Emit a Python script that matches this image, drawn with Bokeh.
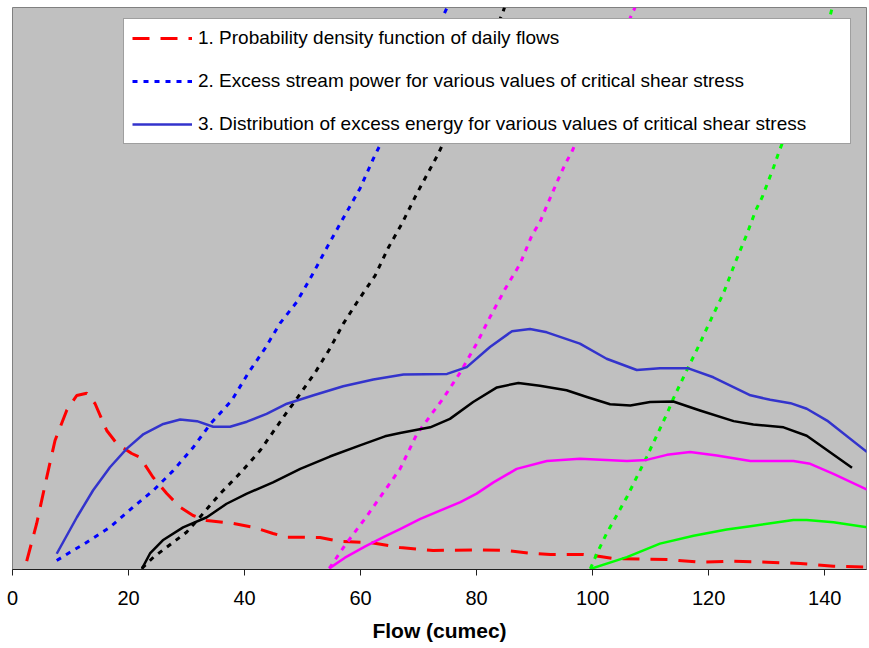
from bokeh.plotting import figure
from bokeh.models import Legend, LegendItem, Range1d, FixedTicker
from bokeh.embed import file_html
from bokeh.resources import INLINE

# 1. Probability density function of daily flows
pdf_flow = [2.45, 4.17, 5.9, 7.33, 9.34, 11.07, 12.79, 14.22, 16.24, 17.97, 20.55, 21.98,
            24.22, 26.59, 28.88, 31.12, 33.48, 38.02, 41.47, 44.91, 47.28, 49.57, 53.0, 56.5,
            61.6, 66.8, 72.5, 80.0, 85.2, 89.7, 92.7, 98.4, 101.3, 103.5, 112.9, 118.5, 124.2,
            130.1, 135.8, 141.5, 147.3]
pdf_val = [1.48, 8.19, 16.4, 22.95, 28.3, 30.96, 31.37, 29.54, 24.73, 22.42, 20.64, 19.98,
           16.42, 13.52, 11.09, 9.61, 8.72, 8.19, 7.53, 6.41, 5.75, 5.75, 5.69, 4.98,
           4.8, 3.9, 3.38, 3.5, 3.38, 2.85, 2.67, 2.67, 2.31, 1.96, 1.78, 1.3, 1.48,
           1.3, 1.07, 0.59, 0.41]

# 2. Excess stream power for various critical shear stresses
sp1_flow = [7.62, 9.91, 12.2, 16.8, 20.8, 24.3, 27.7, 31.2, 34.1, 37.8, 40.6, 43.5, 46.1,
            49.0, 51.6, 54.2, 57.0, 59.9, 62.2, 74.2, 74.9]
sp1_val = [1.6, 3.08, 4.45, 7.53, 11.1, 14.1, 17.6, 21.8, 25.9, 30.1, 34.9, 39.3, 43.8,
           47.6, 52.3, 57.3, 62.5, 67.8, 73.1, 98.4, 100.0]
sp2_flow = [22.3, 24.3, 26.6, 30.0, 32.3, 35.8, 39.2, 42.7, 47.3, 49.0, 52.2, 54.7, 57.0,
            59.6, 62.5, 64.8, 67.1, 69.7, 72.0, 73.4, 84.4, 84.8]
sp2_val = [0.2, 2.19, 3.97, 6.64, 9.31, 13.5, 17.1, 21.2, 28.0, 30.4, 35.1, 39.3, 43.7,
           47.9, 52.3, 57.3, 61.5, 66.9, 71.3, 74.0, 98.8, 100.0]
sp3_flow = [54.6, 57.3, 60.8, 64.2, 66.8, 69.7, 74.2, 77.2, 80.0, 82.3, 84.9, 87.5, 89.5,
            90.9, 93.0, 94.1, 95.3, 96.4, 106.8, 107.3]
sp3_val = [0.2, 4.3, 9.1, 14.1, 17.9, 24.1, 30.4, 35.1, 40.2, 44.9, 49.9, 54.4, 59.4,
           61.8, 66.9, 69.5, 72.2, 74.3, 98.9, 100.0]
sp4_flow = [99.6, 100.7, 102.4, 105.9, 109.3, 112.8, 113.9, 116.2, 118.2, 120.3, 122.6,
            124.6, 126.6, 128.1, 129.2, 131.2, 132.0, 140.8, 141.3]
sp4_val = [0.1, 2.8, 6.4, 12.9, 20.0, 27.7, 30.4, 35.4, 39.6, 44.3, 49.3,
           54.7, 59.7, 63.9, 66.2, 71.6, 74.0, 98.0, 100.0]

# 3. Distribution of excess energy for various critical shear stresses
en1_flow = [7.62, 11.1, 13.9, 16.8, 19.7, 22.6, 26.0, 28.9, 31.8, 34.6, 37.5, 40.4, 43.8,
            47.3, 51.9, 57.0, 62.2, 67.4, 74.9, 78.3, 82.3, 86.1, 89.2, 92.1, 97.8, 102.4,
            107.6, 111.6, 116.5, 120.8, 127.2, 130.6, 134.1, 136.9, 140.4, 147.3]
en1_val = [2.8, 9.3, 14.1, 18.2, 21.5, 24.1, 25.9, 26.7, 26.4, 25.4, 25.4, 26.3, 27.7,
           29.5, 31.0, 32.6, 33.8, 34.7, 34.8, 36.0, 39.6, 42.4, 42.8, 42.2, 40.2, 37.5,
           35.5, 35.8, 35.8, 34.2, 31.0, 30.2, 29.6, 28.6, 26.5, 20.9]
en2_flow = [22.3, 23.7, 25.9, 29.4, 33.5, 36.9, 40.4, 44.9, 49.6, 54.7, 59.9, 64.2, 66.8,
            72.0, 75.4, 79.4, 83.5, 87.2, 90.9, 95.5, 99.0, 103.0, 106.5, 109.9, 113.9,
            118.5, 124.3, 127.7, 132.9, 136.9, 144.7]
en2_val = [0.1, 2.85, 5.2, 7.5, 9.3, 11.7, 13.5, 15.5, 17.9, 20.1, 22.1, 23.7, 24.3,
           25.3, 26.8, 29.8, 32.4, 33.2, 32.7, 31.9, 30.7, 29.4, 29.2, 29.8, 29.9,
           28.3, 26.4, 25.8, 25.3, 23.8, 18.1]
en3_flow = [54.6, 57.3, 60.8, 64.2, 66.8, 70.3, 77.2, 80.0, 82.9, 86.9, 92.1, 97.8, 105.9,
            109.3, 112.8, 116.8, 121.4, 127.2, 134.6, 137.5, 141.5, 147.3]
en3_val = [0.2, 2.1, 4.1, 5.9, 7.2, 9.0, 12.0, 13.5, 15.5, 17.9, 19.3, 19.7, 19.3,
           19.5, 20.4, 20.9, 20.3, 19.3, 19.3, 18.8, 17.0, 14.2]
en4_flow = [99.6, 105.9, 111.6, 117.4, 123.1, 127.2, 134.6, 136.9, 141.5, 147.3]
en4_val = [0.1, 2.2, 4.6, 6.0, 7.1, 7.7, 8.8, 8.8, 8.4, 7.5]

x_ticks = [0, 20, 40, 60, 80, 100, 120, 140]
legend_labels = [
    "1. Probability density function of daily flows",
    "2. Excess stream power for various values of critical shear stress",
    "3. Distribution of excess energy for various values of critical shear stress",
]

FONT = "Liberation Sans"

p = figure(width=869, height=648, output_backend="svg", toolbar_location=None,
           x_range=Range1d(0, 147.2), y_range=Range1d(0, 100),
           y_axis_location=None,
           min_border_left=12, min_border_right=3, min_border_top=7, min_border_bottom=79)
p.background_fill_color = "#C0C0C0"
p.border_fill_color = "white"
p.outline_line_color = "#808080"
p.outline_line_width = 1
p.grid.visible = False

ax = p.xaxis[0]
ax.ticker = FixedTicker(ticks=x_ticks)
ax.minor_tick_line_color = None
ax.major_tick_out = 6
ax.major_tick_in = 0
ax.axis_line_color = "#202020"
ax.major_tick_line_color = "#202020"
ax.major_label_text_font = FONT
ax.major_label_text_font_size = "20px"
ax.major_label_text_color = "black"
ax.major_label_standoff = 15
ax.axis_label = "Flow (cumec)"
ax.axis_label_text_font = FONT
ax.axis_label_text_font_size = "21px"
ax.axis_label_text_font_style = "bold"
ax.axis_label_text_color = "black"
ax.axis_label_standoff = 11

DOT = "5 6"
r_pdf = p.line(pdf_flow, pdf_val, line_color="#FF0000", line_width=3, line_dash="17 11")

r_sp1 = p.line(sp1_flow, sp1_val, line_color="#0000FF", line_width=3, line_dash=DOT)
p.line(sp2_flow, sp2_val, line_color="#000000", line_width=3, line_dash=DOT)
p.line(sp3_flow, sp3_val, line_color="#FF00FF", line_width=3, line_dash=DOT)
p.line(sp4_flow, sp4_val, line_color="#00FF00", line_width=3, line_dash=DOT)

r_en1 = p.line(en1_flow, en1_val, line_color="#3333CC", line_width=2.5, line_join="round")
p.line(en2_flow, en2_val, line_color="#000000", line_width=2.5, line_join="round")
p.line(en3_flow, en3_val, line_color="#FF00FF", line_width=2.5, line_join="round")
p.line(en4_flow, en4_val, line_color="#00FF00", line_width=2.5, line_join="round")

legend = Legend(
    items=[LegendItem(label=legend_labels[0], renderers=[r_pdf]),
           LegendItem(label=legend_labels[1], renderers=[r_sp1]),
           LegendItem(label=legend_labels[2], renderers=[r_en1])],
    location=(111, 425),
    orientation="vertical",
    background_fill_color="white", background_fill_alpha=1.0,
    border_line_color="#404040", border_line_width=1.5,
    label_text_font=FONT, label_text_font_size="19px", label_text_color="black",
    glyph_width=60, glyph_height=22, label_height=22, label_width=644,
    label_standoff=6, spacing=21, padding=8, margin=0,
)
p.add_layout(legend)

open("out.html", "w").write(file_html(p, INLINE))
